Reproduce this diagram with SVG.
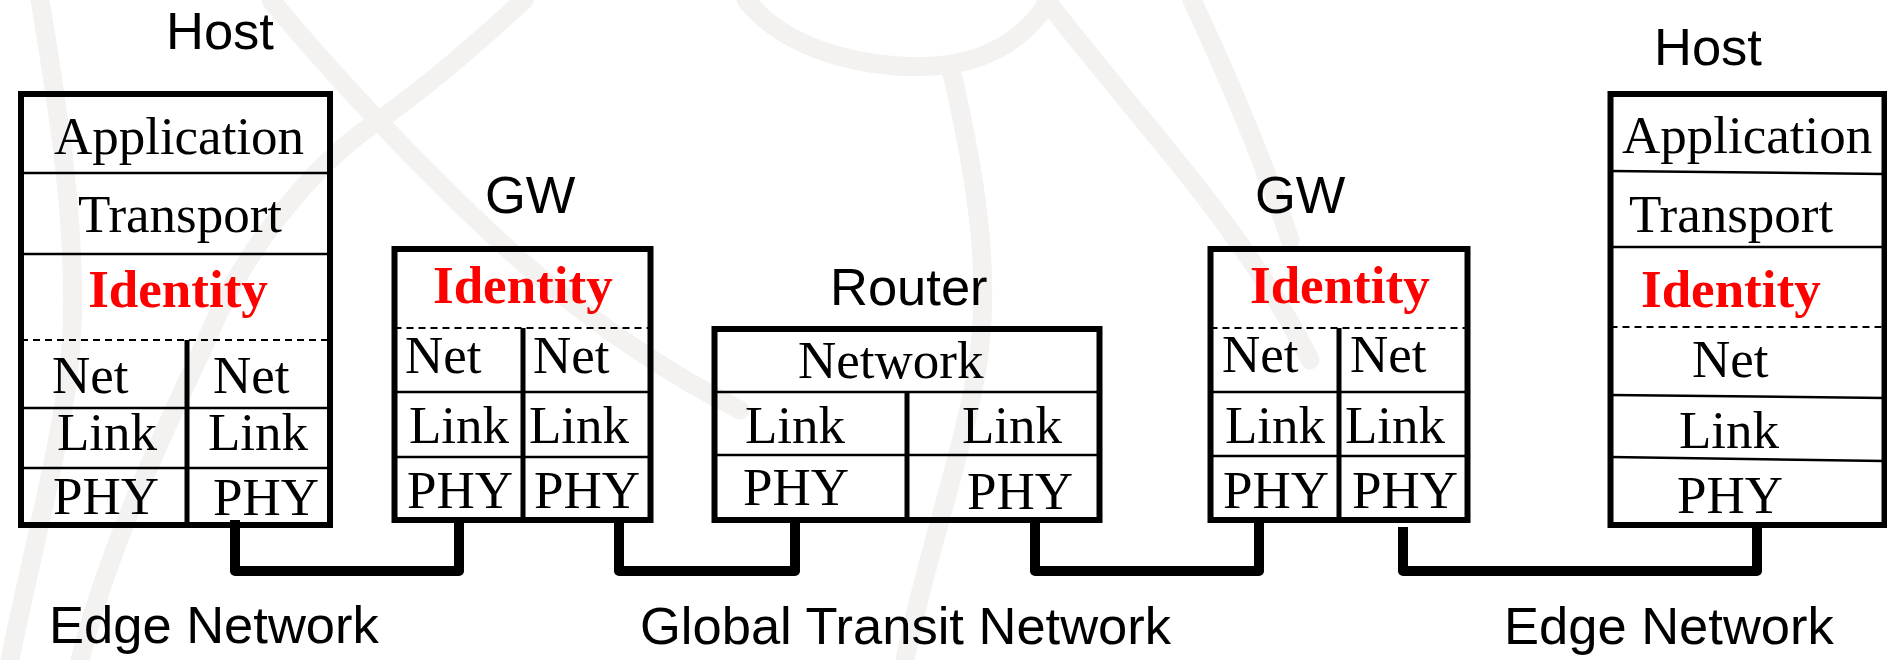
<svg xmlns="http://www.w3.org/2000/svg" width="1887" height="660" viewBox="0 0 1887 660">
  <style>
    .wm { fill: none; stroke: #f3f2f0; stroke-width: 19; stroke-linecap: round; }
    .box { fill: none; stroke: #000; stroke-width: 6; }
    .sep { stroke: #000; stroke-width: 2.5; }
    .dash { stroke: #000; stroke-width: 2; stroke-dasharray: 7 5; }
    .div { stroke: #000; stroke-width: 5; }
    .wire { fill: none; stroke: #000; stroke-width: 10; stroke-linejoin: round; }
    .lbl { font-family: "Liberation Sans", Arial, sans-serif; font-size: 52.5px; fill: #000; }
    .ly { font-family: "Liberation Serif", "Times New Roman", serif; font-size: 53px; fill: #000; }
    .id { font-family: "Liberation Serif", "Times New Roman", serif; font-size: 53px; font-weight: bold; fill: #ff0000; }
  </style>
  <rect width="1887" height="660" fill="#fff"/>

  <!-- faint globe watermark in the background -->
  <g id="watermark">
    <path class="wm" d="M 40,0 C 60,120 80,250 70,360 C 60,450 30,560 10,660"/>
    <path class="wm" d="M 271,0 C 320,60 420,170 520,260 C 600,330 680,380 740,410"/>
    <path class="wm" d="M 524,0 C 470,50 410,100 361,133 C 300,180 240,260 211,330 C 170,420 110,540 80,660"/>
    <path class="wm" d="M 746,0 C 790,55 880,72 945,65 C 1000,58 1030,30 1050,0"/>
    <path class="wm" d="M 950,65 C 980,190 992,290 975,380 C 958,470 925,560 905,660"/>
    <path class="wm" d="M 1046,0 C 1100,70 1170,150 1215,210 C 1260,270 1290,320 1310,360"/>
    <path class="wm" d="M 1192,0 C 1220,60 1260,150 1290,240"/>
  </g>

  <!-- left host stack -->
  <g id="host-left">
    <text class="lbl" x="166" y="49">Host</text>
    <rect class="box" x="21" y="94" width="309" height="431"/>
    <line class="sep" x1="21" y1="173" x2="330" y2="173"/>
    <line class="sep" x1="21" y1="254" x2="330" y2="254"/>
    <line class="dash" x1="21" y1="340" x2="330" y2="340"/>
    <line class="div" x1="187" y1="340" x2="187" y2="525"/>
    <line class="sep" x1="21" y1="408" x2="330" y2="408"/>
    <line class="sep" x1="21" y1="468" x2="330" y2="468"/>
    <text class="ly" x="179" y="154" text-anchor="middle">Application</text>
    <text class="ly" x="180" y="232" text-anchor="middle">Transport</text>
    <text class="id" x="178" y="307" text-anchor="middle">Identity</text>
    <text class="ly" x="52" y="393">Net</text>
    <text class="ly" x="213" y="393">Net</text>
    <text class="ly" x="57" y="450">Link</text>
    <text class="ly" x="208" y="450">Link</text>
    <text class="ly" x="53" y="514">PHY</text>
    <text class="ly" x="213" y="515">PHY</text>
  </g>

  <!-- first gateway -->
  <g id="gw-left">
    <text class="lbl" x="485" y="213">GW</text>
    <rect class="box" x="394.5" y="249" width="256" height="271"/>
    <line class="dash" x1="394.5" y1="328" x2="650.5" y2="328"/>
    <line class="div" x1="523" y1="328" x2="523" y2="520"/>
    <line class="sep" x1="394.5" y1="392" x2="650.5" y2="392"/>
    <line class="sep" x1="394.5" y1="457" x2="650.5" y2="457"/>
    <text class="id" x="433" y="303">Identity</text>
    <text class="ly" x="405" y="373">Net</text>
    <text class="ly" x="533" y="373">Net</text>
    <text class="ly" x="409" y="443">Link</text>
    <text class="ly" x="529" y="443">Link</text>
    <text class="ly" x="407" y="508">PHY</text>
    <text class="ly" x="534" y="508">PHY</text>
  </g>

  <!-- core router -->
  <g id="router">
    <text class="lbl" x="830" y="305">Router</text>
    <rect class="box" x="714.5" y="329" width="385" height="191"/>
    <line class="sep" x1="714.5" y1="392" x2="1099.5" y2="392"/>
    <line class="div" x1="907" y1="392" x2="907" y2="520"/>
    <line class="sep" x1="714.5" y1="455" x2="1099.5" y2="455"/>
    <text class="ly" x="798" y="378">Network</text>
    <text class="ly" x="745" y="443">Link</text>
    <text class="ly" x="962" y="443">Link</text>
    <text class="ly" x="743" y="505">PHY</text>
    <text class="ly" x="967" y="509">PHY</text>
  </g>

  <!-- second gateway -->
  <g id="gw-right">
    <text class="lbl" x="1255" y="213">GW</text>
    <rect class="box" x="1210.5" y="249" width="257" height="271"/>
    <line class="dash" x1="1210.5" y1="328" x2="1467.5" y2="328"/>
    <line class="div" x1="1339" y1="328" x2="1339" y2="520"/>
    <line class="sep" x1="1210.5" y1="392" x2="1467.5" y2="392"/>
    <line class="sep" x1="1210.5" y1="456" x2="1467.5" y2="456"/>
    <text class="id" x="1250" y="303">Identity</text>
    <text class="ly" x="1222" y="372">Net</text>
    <text class="ly" x="1350" y="372">Net</text>
    <text class="ly" x="1225" y="443">Link</text>
    <text class="ly" x="1345" y="443">Link</text>
    <text class="ly" x="1223" y="508">PHY</text>
    <text class="ly" x="1352" y="508">PHY</text>
  </g>

  <!-- right host stack -->
  <g id="host-right">
    <text class="lbl" x="1654" y="65">Host</text>
    <rect class="box" x="1610.5" y="94" width="274" height="431"/>
    <line class="sep" x1="1610.5" y1="171" x2="1884.5" y2="174"/>
    <line class="sep" x1="1610.5" y1="247" x2="1884.5" y2="247"/>
    <line class="dash" x1="1610.5" y1="327" x2="1884.5" y2="327"/>
    <line class="sep" x1="1610.5" y1="395" x2="1884.5" y2="398"/>
    <line class="sep" x1="1610.5" y1="457" x2="1884.5" y2="461"/>
    <text class="ly" x="1622" y="153">Application</text>
    <text class="ly" x="1629" y="232">Transport</text>
    <text class="id" x="1641" y="307">Identity</text>
    <text class="ly" x="1692" y="377">Net</text>
    <text class="ly" x="1679" y="448">Link</text>
    <text class="ly" x="1677" y="513">PHY</text>
  </g>

  <!-- physical links between PHY layers -->
  <g id="connectors">
    <path class="wire" d="M 235,520 V 571 H 459 V 520"/>
    <path class="wire" d="M 619,520 V 571 H 795 V 520"/>
    <path class="wire" d="M 1035,520 V 571 H 1259 V 520"/>
    <path class="wire" d="M 1403,527 V 571 H 1757 V 525"/>
  </g>

  <!-- network region labels -->
  <g id="regions">
    <text class="lbl" x="49" y="643">Edge Network</text>
    <text class="lbl" x="640" y="644">Global Transit Network</text>
    <text class="lbl" x="1504" y="644">Edge Network</text>
  </g>
</svg>
